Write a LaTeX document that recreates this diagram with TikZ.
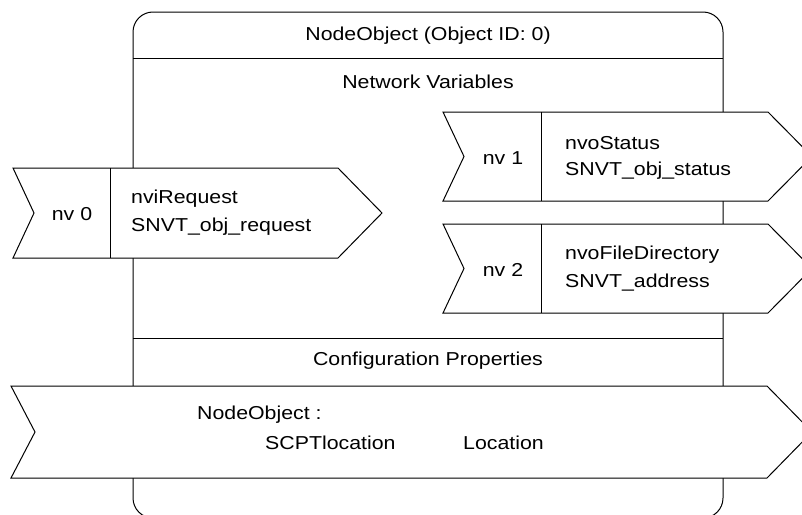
\documentclass[tikz,border=0pt]{standalone}
\usepackage{fontspec}
\setmainfont[FakeStretch=1.14]{Liberation Sans}
\begin{document}
\begin{tikzpicture}[x=1pt,y=-1pt,
  line/.style={draw=black,line width=1pt},
  flag/.style={draw=black,fill=white,line width=1pt,line join=miter},
  txt/.style={font=\fontsize{18.7}{22}\selectfont,inner sep=0pt},
  ltxt/.style={txt,anchor=west}]
\useasboundingbox (0,0) rectangle (802,514);
\clip (0,0) rectangle (802,514);
% main rounded box
\draw[line,rounded corners=20pt] (133,12) rectangle (723,518);
\draw[line] (133,58) -- (723,58);
\draw[line] (133,338) -- (723,338);
\node[txt] (title) at (428,36) {NodeObject (Object ID: 0)};
\node[txt] (nvsec) at (428,82) {Network Variables};
\node[txt] (cpsec) at (428,361) {Configuration Properties};
% nv0
\draw[flag] (13,168) -- (338,168) -- (382,213) -- (338,258) -- (13,258) -- (34,213) -- cycle;
\draw[line] (110,168) -- (110,258);
\node[txt] (nv0) at (72,214) {nv 0};
\node[ltxt] (nv0a) at (131,199) {nviRequest};
\node[ltxt] (nv0b) at (131,227) {SNVT\_obj\_request};
% nv1
\draw[flag] (443,112) -- (768,112) -- (812,156.5) -- (768,201) -- (443,201) -- (464,156.5) -- cycle;
\draw[line] (541,112) -- (541,201);
\node[txt] (nv1) at (503,158) {nv 1};
\node[ltxt] (nv1a) at (565,143) {nvoStatus};
\node[ltxt] (nv1b) at (565,171) {SNVT\_obj\_status};
% nv2
\draw[flag] (443,224) -- (768,224) -- (812,268.5) -- (768,313) -- (443,313) -- (464,268.5) -- cycle;
\draw[line] (541,224) -- (541,313);
\node[txt] (nv2) at (503,270) {nv 2};
\node[ltxt] (nv2a) at (565,255) {nvoFileDirectory};
\node[ltxt] (nv2b) at (565,283) {SNVT\_address};
% config property
\draw[flag] (11,386) -- (767,386) -- (812,432) -- (767,478) -- (11,478) -- (35,432) -- cycle;
\node[ltxt] (cpa) at (197,415) {NodeObject :};
\node[ltxt] (cpb) at (265,443) {SCPTlocation};
\node[ltxt] (cpc) at (463,443) {Location};
\end{tikzpicture}
\end{document}
